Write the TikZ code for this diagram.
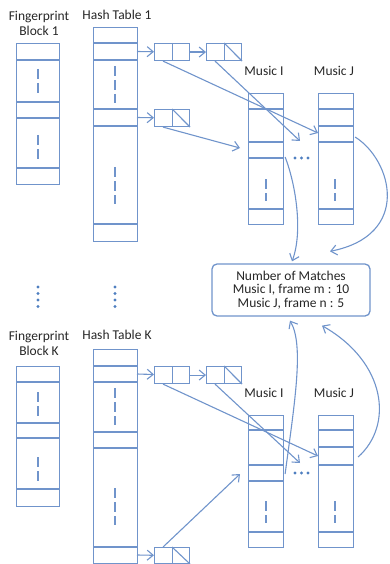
\documentclass[tikz,border=0pt]{standalone}
\usepackage{fontspec}
\setmainfont{Carlito}
\usetikzlibrary{arrows.meta, positioning, calc}
\definecolor{tabblue}{HTML}{7094CB}
\definecolor{dotblue}{HTML}{4F7FC0}
\definecolor{textgray}{HTML}{262626}
\tikzset{
  % table columns (hash tables, fingerprint blocks, music frames)
  col/.style={rectangle, draw=tabblue, line width=1.1pt, inner sep=0pt,
              anchor=north west, minimum width=#1},
  col/.default=35pt,
  % dividers inside a column
  tab/.style={draw=tabblue, line width=1.1pt},
  % the broken line that stands for skipped rows
  gapline/.style={draw=tabblue, line width=1.1pt, dash pattern=on 10pt off 4pt},
  % linked-list cells
  cell/.style={rectangle, draw=tabblue, line width=1.1pt, inner sep=0pt,
               anchor=north west, minimum width=35pt, minimum height=17pt},
  % captions
  caption/.style={align=center, inner sep=0pt, text=textgray},
  % connectors
  arr/.style={tab, -{Straight Barb[length=6pt, width=10pt, line width=1.1pt]}},
  % result box
  result/.style={rectangle, draw=tabblue, line width=1.3pt, rounded corners=5pt,
                 minimum width=158pt, minimum height=52pt, align=center,
                 text=textgray, font=\fontsize{13.5}{13.7}\selectfont},
}

\begin{document}
\begin{tikzpicture}[x=1pt, y=-1pt, font=\fontsize{13.5}{15}\selectfont]
\useasboundingbox (0,0) rectangle (390,564);

% ── Block 1 ──────────────────────────────────────────────────────────────────
\node[caption] (fblab1) at (39,23) {Fingerprint\\Block 1};
\node[caption] (htlab1) at (117,15) {Hash Table 1};
\node[caption] (milab1) at (264,71) {Music I};
\node[caption] (mjlab1) at (334,71) {Music J};

\node[col=43pt, minimum height=141pt] (fb1) at (16,43) {};
\foreach \y in {60,102,118,168} \draw[tab] (16,\y) -- (59,\y);
\draw[gapline] (38,69) -- (38,95);
\draw[gapline] (38,135) -- (38,160);

\node[col=44pt, minimum height=214pt] (ht1) at (93,27) {};
\foreach \y in {43,60,109,126,224} \draw[tab] (93,\y) -- (137,\y);
\draw[gapline] (115,66) -- (115,103);
\draw[gapline] (115,167) -- (115,204);
\coordinate (ht1r1) at (137,51.5);
\coordinate (ht1r2) at (137,117.5);

\node[cell] (l1a) at (154,43) {};
\node[cell] (l1b) at (206,43) {};
\node[cell] (l1c) at (154,109) {};
\foreach \c in {l1a,l1b,l1c} \draw[tab] (\c.north) -- (\c.south);
\draw[tab] (l1b.north) -- (l1b.south east);
\draw[tab] (l1c.north) -- (l1c.south east);

\node[col, minimum height=131pt] (mi1) at (248,93) {};
\foreach \y in {109,142,158,209} \draw[tab] (248,\y) -- (283,\y);
\draw[gapline] (266,179) -- (266,201);
\node[col, minimum height=131pt] (mj1) at (318,93) {};
\foreach \y in {109,126,142,209} \draw[tab] (318,\y) -- (353,\y);
\draw[gapline] (335,179) -- (335,201);
\foreach \x in {295,301.5,308} \fill[dotblue] (\x,158) circle (1.6pt);

\coordinate (mid1) at (300,141);
\coordinate (miin1) at (240,148);

\draw[arr] (ht1r1) -- (l1a);
\draw[arr] (l1a) -- (l1b);
\draw[arr] (ht1r2) -- (l1c);
\draw[arr] ($(l1a.south west)!0.25!(l1a.south east)$) -- ($(mj1.north west)+(0,40)$);
\draw[arr] ($(l1b.south west)!0.25!(l1b.south east)$) -- (mid1);
\draw[arr] ($(l1c.south west)!0.25!(l1c.south east)$) -- (miin1);

% ── Result ───────────────────────────────────────────────────────────────────
\node[result] (match) at (291,290)
  {Number of Matches\\Music I, frame m : 10\\Music J, frame n : 5};

\draw[arr] ($(mi1.north east)+(1,64)$) .. controls (296,185) and (303,232)
  .. ($(match.north)+(1,-2)$);
\draw[arr] ($(mj1.north east)+(1,44)$) .. controls (392,160) and (412,235)
  .. ($(match.north)+(39,-12)$);

% ── Skipped blocks ───────────────────────────────────────────────────────────
\foreach \y in {287,293.5,300,306.5} {
  \fill[dotblue] (38,\y) circle (1.6pt);
  \fill[dotblue] (115,\y) circle (1.6pt);
}

% ── Block K ──────────────────────────────────────────────────────────────────
\node[caption] (fblabk) at (39,343) {Fingerprint\\Block K};
\node[caption] (htlabk) at (117,335) {Hash Table K};
\node[caption] (milabk) at (264,393) {Music I};
\node[caption] (mjlabk) at (334,393) {Music J};

\node[col=43pt, minimum height=140pt] (fbk) at (16,366) {};
\foreach \y in {382,423,438,489} \draw[tab] (16,\y) -- (59,\y);
\draw[gapline] (38,392) -- (38,416);
\draw[gapline] (38,457) -- (38,481);

\node[col=44pt, minimum height=214pt] (htk) at (93,349) {};
\foreach \y in {366,382,432,448,547} \draw[tab] (93,\y) -- (137,\y);
\draw[gapline] (115,388) -- (115,425);
\draw[gapline] (115,488) -- (115,525);
\coordinate (htkr1) at (137,374);
\coordinate (htkr2) at (137,555);

\node[cell] (lka) at (154,366) {};
\node[cell] (lkb) at (206,366) {};
\node[cell, minimum height=16pt] (lkc) at (154,547) {};
\foreach \c in {lka,lkb,lkc} \draw[tab] (\c.north) -- (\c.south);
\draw[tab] (lkb.north) -- (lkb.south east);
\draw[tab] (lkc.north) -- (lkc.south east);

\node[col, minimum height=132pt] (mik) at (248,415) {};
\foreach \y in {430,465,481,532} \draw[tab] (248,\y) -- (283,\y);
\draw[gapline] (266,501) -- (266,523);
\node[col, minimum height=132pt] (mjk) at (318,415) {};
\foreach \y in {430,447,465,532} \draw[tab] (318,\y) -- (353,\y);
\draw[gapline] (335,501) -- (335,523);
\foreach \x in {295,301.5,308} \fill[dotblue] (\x,473) circle (1.6pt);

\coordinate (midk) at (300,463);
\coordinate (miink) at (240,474);

\draw[arr] (htkr1) -- (lka);
\draw[arr] (lka) -- (lkb);
\draw[arr] (htkr2) -- (lkc);
\draw[arr] ($(lka.south west)!0.25!(lka.south east)$) -- ($(mjk.north west)+(0,41)$);
\draw[arr] ($(lkb.south west)!0.25!(lkb.south east)$) -- (midk);
\draw[arr] ($(lkc.north west)!0.25!(lkc.north east)$) -- (miink);

\draw[arr] ($(mik.north east)+(1,59)$) .. controls (295,400) and (304,345)
  .. ($(match.south)+(-1,4)$);
\draw[arr] ($(mjk.north east)+(4,42)$) .. controls (394,425) and (386,362)
  .. ($(match.south)+(31,9)$);

\end{tikzpicture}
\end{document}
